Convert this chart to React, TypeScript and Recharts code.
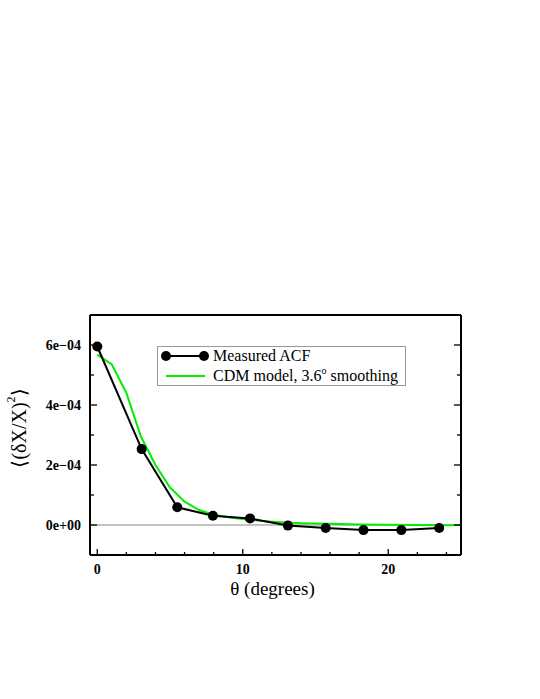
import { LineChart, Line, XAxis, YAxis, ReferenceLine } from "recharts"

// measured autocorrelation (degrees, value)
const measuredTheta = [0, 3.05, 5.5, 7.95, 10.5, 13.1, 15.7, 18.3, 20.9, 23.5]
const measuredAcf = [5.95e-4, 2.53e-4, 0.59e-4, 0.31e-4, 0.22e-4, -0.02e-4, -0.1e-4, -0.17e-4, -0.17e-4, -0.1e-4]

// CDM model curve, 3.6 deg smoothing
const modelTheta = [0, 1, 2, 3, 4, 5, 6, 7, 8, 9, 10, 11, 12, 13, 14, 16, 18, 20, 22, 24, 25]
const modelAcf = [
  5.68e-4, 5.35e-4, 4.4e-4, 2.95e-4, 2.0e-4, 1.25e-4, 0.78e-4, 0.5e-4, 0.34e-4, 0.26e-4, 0.2e-4,
  0.15e-4, 0.11e-4, 0.08e-4, 0.06e-4, 0.04e-4, 0.02e-4, 0.01e-4, 0, -0.01e-4, 0,
]

const xTicks = [0, 2, 4, 6, 8, 10, 12, 14, 16, 18, 20, 22, 24]
const xMajor = [0, 10, 20]
const yTicks = [0, 1e-4, 2e-4, 3e-4, 4e-4, 5e-4, 6e-4]
const yMajor = [0, 2e-4, 4e-4, 6e-4]
const yMajorLabels = ["0e+00", "2e\u221204", "4e\u221204", "6e\u221204"]

const measured = measuredTheta.map((t, i) => ({ theta: t, acf: measuredAcf[i] }))
const model = modelTheta.map((t, i) => ({ theta: t, acf: modelAcf[i] }))

const serif = "'Liberation Serif', 'Times New Roman', serif"

const isMajorY = (v: number) => yMajor.findIndex((m) => Math.abs(m - v) < 1e-9)

const BottomTick = ({ x, y, payload }: any) => {
  const major = xMajor.includes(payload.value)
  return (
    <g>
      <line x1={x} x2={x} y1={y} y2={y - (major ? 6 : 3)} stroke="#000" strokeWidth={1.3} />
      {major && (
        <text x={x} y={y + 19} textAnchor="middle" fontFamily={serif} fontWeight="bold" fontSize={14} fill="#000">
          {payload.value}
        </text>
      )}
    </g>
  )
}

const TopTick = ({ x, y, payload }: any) => {
  const major = xMajor.includes(payload.value)
  return <line x1={x} x2={x} y1={y} y2={y + (major ? 6 : 3)} stroke="#000" strokeWidth={1.3} />
}

const LeftTick = ({ x, y, payload }: any) => {
  const idx = isMajorY(payload.value)
  return (
    <g>
      <line x1={x} x2={x + (idx >= 0 ? 7 : 4)} y1={y} y2={y} stroke="#000" strokeWidth={1.3} />
      {idx >= 0 && (
        <text x={x - 9} y={y + 5} textAnchor="end" fontFamily={serif} fontWeight="bold" fontSize={14} fill="#000">
          {yMajorLabels[idx]}
        </text>
      )}
    </g>
  )
}

const RightTick = ({ x, y, payload }: any) => {
  const major = isMajorY(payload.value) >= 0
  return <line x1={x} x2={x - (major ? 7 : 4)} y1={y} y2={y} stroke="#000" strokeWidth={1.3} />
}

const LegendBox = () => (
  <svg width={249} height={40} style={{ position: "absolute", left: 157, top: 346 }}>
    <rect x={0.5} y={0.5} width={248} height={39} fill="#fff" stroke="#999" strokeWidth={1} />
    <line x1={9} x2={47} y1={10} y2={10} stroke="#000" strokeWidth={2} />
    <circle cx={9} cy={10} r={5} fill="#000" />
    <circle cx={47} cy={10} r={5} fill="#000" />
    <text x={56} y={15} fontFamily={serif} fontSize={16} fill="#000">Measured ACF</text>
    <line x1={9} x2={48} y1={30} y2={30} stroke="#00ee00" strokeWidth={2} />
    <text x={56} y={35} fontFamily={serif} fontSize={16} fill="#000">
      CDM model, 3.6<tspan dy={-7} fontSize={10}>o</tspan>
      <tspan dy={7}> smoothing</tspan>
    </text>
  </svg>
)

export default function App() {
  return (
    <div style={{ position: "absolute", left: 0, top: 0, width: 540, height: 699, background: "#fff" }}>
      <LineChart width={540} height={699} margin={{ top: 314, right: 78, bottom: 104, left: 20 }}>
        <XAxis
          dataKey="theta"
          type="number"
          domain={[-0.5, 25]}
          ticks={xTicks}
          allowDataOverflow
          height={40}
          tickSize={0}
          tickMargin={0}
          tickLine={false}
          axisLine={{ stroke: "#000", strokeWidth: 2 }}
          tick={<BottomTick />}
          interval={0}
          label={{
            content: ({ viewBox }: any) => (
              <text x={viewBox.x + viewBox.width / 2 - 3} y={viewBox.y + 40} textAnchor="middle" fontFamily={serif} fontSize={19} fill="#000">
                θ (degrees)
              </text>
            ),
          }}
        />
        <XAxis
          xAxisId="top"
          orientation="top"
          type="number"
          domain={[-0.5, 25]}
          ticks={xTicks}
          allowDataOverflow
          height={1}
          tickSize={0}
          tickMargin={0}
          tickLine={false}
          axisLine={{ stroke: "#000", strokeWidth: 2 }}
          tick={<TopTick />}
          interval={0}
        />
        <YAxis
          type="number"
          domain={[-1e-4, 7e-4]}
          ticks={yTicks}
          allowDataOverflow
          width={70}
          tickSize={0}
          tickMargin={0}
          tickLine={false}
          axisLine={{ stroke: "#000", strokeWidth: 2 }}
          tick={<LeftTick />}
          interval={0}
          label={{
            content: ({ viewBox }: any) => {
              const cx = 19
              const cy = viewBox.y + viewBox.height / 2 - 7
              return (
                <text x={cx} y={cy} transform={`rotate(-90, ${cx}, ${cy})`} textAnchor="middle" dominantBaseline="central" fontFamily={serif} fontSize={20} fill="#000">
                  ⟨(δX/X)<tspan dy={-8} fontSize={12}>2</tspan>
                  <tspan dy={8}>⟩</tspan>
                </text>
              )
            },
          }}
        />
        <YAxis
          yAxisId="right"
          orientation="right"
          type="number"
          domain={[-1e-4, 7e-4]}
          ticks={yTicks}
          allowDataOverflow
          width={1}
          tickSize={0}
          tickMargin={0}
          tickLine={false}
          axisLine={{ stroke: "#000", strokeWidth: 2 }}
          tick={<RightTick />}
          interval={0}
        />
        <ReferenceLine y={0} stroke="#888" strokeWidth={1} />
        <Line
          data={model}
          dataKey="acf"
          name="CDM model, 3.6° smoothing"
          type="linear"
          stroke="#00ee00"
          strokeWidth={2}
          dot={false}
          isAnimationActive={false}
        />
        <Line
          data={measured}
          dataKey="acf"
          name="Measured ACF"
          type="linear"
          stroke="#000"
          strokeWidth={2}
          dot={{ r: 5, fill: "#000", stroke: "#000", strokeWidth: 0 }}
          isAnimationActive={false}
        />
      </LineChart>
      <LegendBox />
    </div>
  )
}
